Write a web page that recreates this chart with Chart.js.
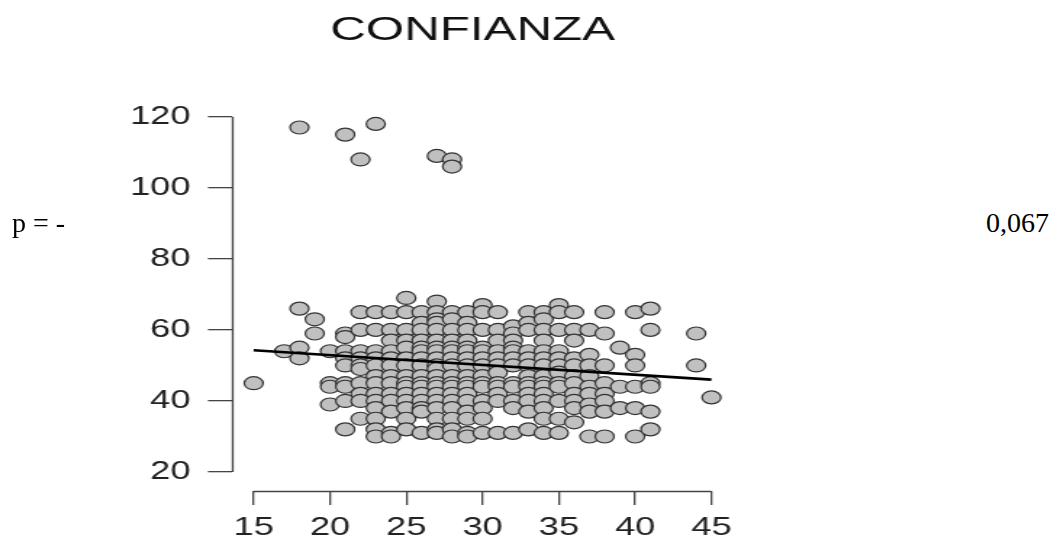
<!DOCTYPE html>
<html>
<head>
<meta charset="utf-8">
<script src="https://cdn.jsdelivr.net/npm/chart.js@4.4.1/dist/chart.umd.min.js"></script>
<style>
    html, body { margin: 0; padding: 0; background: #fff; }
    body { width: 1059px; height: 542px; position: relative; overflow: hidden; }
    /* the plot in the reference is stretched sideways, so the canvas is too */
    #plotWrap { position: absolute; left: 0; top: 0; width: 652px; height: 542px;
                transform: scaleX(1.45); transform-origin: 0 0; }
    .note { position: absolute; font-family: "Liberation Serif", "Times New Roman", serif;
            font-size: 28px; line-height: 28px; color: #000; white-space: pre; }
</style>
</head>
<body>
<div id="plotWrap"><canvas id="confChart" width="652" height="542"></canvas></div>
<div class="note" style="left:12px; top:209px;">p = -</div>
<div class="note" style="right:10px; top:209px;">0,067</div>

<script>
// 나이별 CONFIANZA 점수
const ages = [15, 17, 18, 19, 20, 21, 22, 23, 24, 25, 26, 27, 28, 29, 30,
              31, 32, 33, 34, 35, 36, 37, 38, 39, 40, 41, 44, 45];
const scoresByAge = [
    [45],
    [54],
    [117, 66, 55, 52],
    [63, 59],
    [54, 45, 44, 39],
    [115, 59, 58, 54, 52, 50, 45, 44, 40, 32],
    [108, 65, 60, 54, 52, 50, 49, 45, 42, 40, 35],
    [118, 65, 60, 54, 52, 50, 47, 45, 42, 40, 38, 35, 32, 30],
    [65, 60, 57, 54, 52, 50, 47, 45, 42, 40, 37, 31, 30],
    [69, 65, 60, 57, 55, 52, 50, 47, 45, 44, 42, 40, 38, 35, 32],
    [65, 62, 60, 57, 55, 54, 52, 50, 47, 45, 44, 42, 40, 38, 37, 31],
    [109, 68, 65, 63, 62, 60, 57, 55, 54, 52, 50, 49, 47, 45, 44, 42, 40, 38, 35, 32, 31],
    [108, 106, 65, 63, 60, 57, 55, 54, 52, 50, 47, 45, 44, 42, 40, 38, 35, 32, 30],
    [65, 62, 60, 57, 55, 54, 52, 50, 47, 45, 44, 42, 40, 37, 35, 31, 30],
    [67, 65, 60, 55, 54, 52, 50, 47, 45, 44, 40, 38, 35, 31],
    [65, 60, 57, 54, 52, 50, 48, 45, 44, 42, 40, 31],
    [61, 59, 57, 55, 54, 52, 50, 45, 44, 40, 38, 31],
    [65, 62, 60, 54, 52, 50, 47, 45, 44, 42, 40, 37, 32],
    [65, 63, 60, 57, 54, 52, 50, 47, 45, 44, 42, 40, 38, 35, 31],
    [67, 65, 60, 54, 52, 50, 48, 45, 44, 40, 35, 31],
    [65, 60, 57, 52, 50, 47, 45, 42, 40, 38, 34],
    [60, 53, 50, 47, 44, 42, 39, 37, 30],
    [65, 59, 50, 45, 42, 40, 37, 30],
    [55, 44, 38],
    [65, 53, 50, 44, 38, 30],
    [66, 60, 45, 44, 37, 32],
    [59, 50],
    [41]
];

// 회귀선 양 끝점
const trendX = [15, 45];
const trendY = [54.3, 46.0];

// 축 눈금
const xTicks = [15, 20, 25, 30, 35, 40, 45];
const yTicks = [20, 40, 60, 80, 100, 120];

const points = [];
ages.forEach((age, i) => {
    scoresByAge[i].forEach(score => points.push({ x: age, y: score }));
});

// R 스타일로 눈금 범위만큼만 축선 그리기
const axisLines = {
    id: 'axisLines',
    beforeDatasetsDraw(chart) {
        const { ctx, chartArea, scales } = chart;
        const x = scales.x, y = scales.y;
        ctx.save();
        ctx.strokeStyle = '#444';
        ctx.lineWidth = 1.3;
        ctx.beginPath();
        const lx = Math.round(chartArea.left) + 0.5;
        ctx.moveTo(lx, y.getPixelForValue(yTicks[yTicks.length - 1]));
        ctx.lineTo(lx, y.getPixelForValue(yTicks[0]));
        const by = Math.round(chartArea.bottom) + 0.5;
        ctx.moveTo(x.getPixelForValue(xTicks[0]), by);
        ctx.lineTo(x.getPixelForValue(xTicks[xTicks.length - 1]), by);
        ctx.stroke();
        ctx.restore();
    }
};

const tickFont = { family: '"Liberation Sans", Arial, sans-serif', size: 25 };

new Chart(document.getElementById('confChart'), {
    type: 'scatter',
    data: {
        datasets: [{
            type: 'line',
            data: trendX.map((v, i) => ({ x: v, y: trendY[i] })),
            borderColor: '#000',
            borderWidth: 2.6,
            pointRadius: 0,
            fill: false,
            order: 0
        }, {
            data: points,
            backgroundColor: '#c0c0c0',
            borderColor: '#333',
            borderWidth: 1.2,
            pointRadius: 6.5,
            order: 1
        }]
    },
    options: {
        responsive: false,
        animation: false,
        devicePixelRatio: 1,
        layout: { padding: 0 },
        plugins: {
            legend: { display: false },
            tooltip: { enabled: false },
            title: {
                display: true,
                text: 'CONFIANZA',
                color: '#111',
                font: { family: '"Liberation Sans", Arial, sans-serif', size: 34, weight: 'normal' },
                padding: { top: 10, bottom: 49 }
            }
        },
        scales: {
            x: {
                type: 'linear',
                min: 13.58,
                max: 59.6,
                afterBuildTicks: scale => { scale.ticks = xTicks.map(v => ({ value: v })); },
                afterFit: scale => { scale.height = 51; },
                border: { display: false },
                grid: { drawOnChartArea: false, drawTicks: true, tickLength: 14, color: '#444', lineWidth: 1.3 },
                ticks: { font: tickFont, color: '#222', padding: 8, maxRotation: 0 }
            },
            y: {
                type: 'linear',
                min: 14.65,
                max: 124.8,
                afterBuildTicks: scale => { scale.ticks = yTicks.map(v => ({ value: v })); },
                afterFit: scale => { scale.width = 160; },
                border: { display: false },
                grid: { drawOnChartArea: false, drawTicks: true, tickLength: 16.6, color: '#444', lineWidth: 1.3 },
                ticks: { font: tickFont, color: '#222', padding: 12 }
            }
        }
    },
    plugins: [axisLines]
});
</script>
</body>
</html>
